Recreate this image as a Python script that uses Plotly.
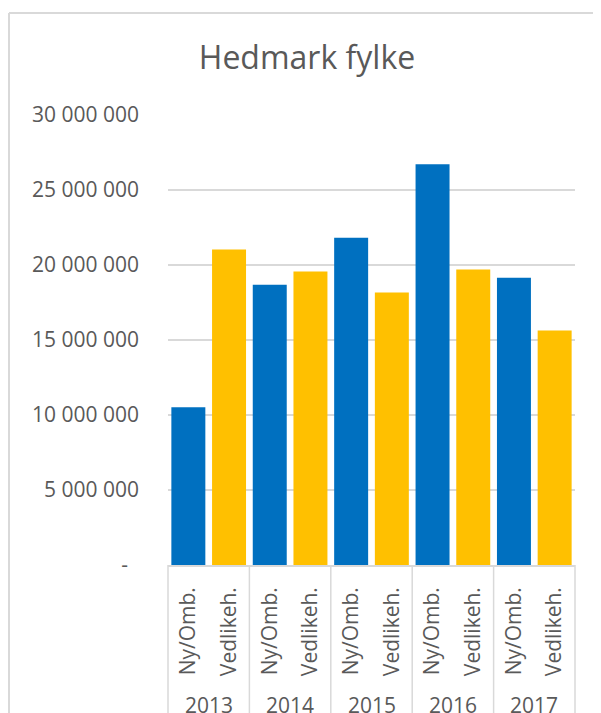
import plotly.graph_objects as go

years = ["2013", "2014", "2015", "2016", "2017"]
categories = ["Ny/Omb.", "Vedlikeh."]
ny_omb = [10520000, 18680000, 21810000, 26720000, 19150000]
vedlikeh = [21030000, 19570000, 18170000, 19700000, 15630000]
y_tickvals = [0, 5000000, 10000000, 15000000, 20000000, 25000000, 30000000]
y_ticktext = ["-\u00a0\u00a0", "5 000 000", "10 000 000", "15 000 000", "20 000 000", "25 000 000", "30 000 000"]

BLUE = "#0070C0"
YELLOW = "#FFC000"
TEXT = "#595959"
GRID = "#D9D9D9"
FONT = "Open Sans"

# page has an 8px body margin; figure is sized to fill the rest of the window
OFF = 8
W, H = 601 - OFF, 713 - OFF
L, R, T, B = 168 - OFF, 26, 115 - OFF, 148
pw, ph = W - L - R, H - T - B

keys_ny = [f"{yv} {categories[0]}" for yv in years]
keys_ved = [f"{yv} {categories[1]}" for yv in years]
order = []
labels = []
for yv in years:
    for c in categories:
        order.append(f"{yv} {c}")
        labels.append(c)

fig = go.Figure()
fig.add_trace(go.Bar(x=keys_ny, y=ny_omb, name=categories[0],
                     marker=dict(color=BLUE, line=dict(width=0))))
fig.add_trace(go.Bar(x=keys_ved, y=vedlikeh, name=categories[1],
                     marker=dict(color=YELLOW, line=dict(width=0))))

n = len(order)
shapes = []
for k in range(len(years) + 1):
    xp = (k * len(categories)) / n
    shapes.append(dict(type="line", xref="paper", yref="paper",
                       x0=xp, x1=xp, y0=0, y1=-(B + 10) / ph,
                       line=dict(color=GRID, width=1.5)))
bx = (9 - OFF - L) / pw
by = (H - B - (13 - OFF)) / ph
shapes.append(dict(type="line", xref="paper", yref="paper", x0=bx, x1=bx,
                   y0=by, y1=-(B + 10) / ph, line=dict(color=GRID, width=2)))
shapes.append(dict(type="line", xref="paper", yref="paper", x0=bx, x1=(W + 10 - L) / pw,
                   y0=by, y1=by, line=dict(color=GRID, width=2)))

annotations = []
for i, yv in enumerate(years):
    annotations.append(dict(
        text=yv, xref="paper", yref="paper",
        x=(i * 2 + 1) / n, y=-((689 - OFF) - (H - B)) / ph,
        xanchor="center", yanchor="top", showarrow=False,
        font=dict(family=FONT, size=21, color=TEXT)))

fig.update_layout(
    width=W, height=H,
    margin=dict(l=L, r=R, t=T, b=B, pad=0),
    paper_bgcolor="white", plot_bgcolor="white",
    showlegend=False,
    barmode="relative", bargap=0.165,
    title=dict(text="Hedmark fylke", x=(307 - OFF) / W, xanchor="center",
               y=1 - (57.5 - OFF) / H, yanchor="middle", yref="container",
               font=dict(family=FONT, size=32, color=TEXT)),
    font=dict(family=FONT, color=TEXT),
    shapes=shapes,
    annotations=annotations,
)
fig.update_xaxes(
    type="category", categoryorder="array", categoryarray=order,
    tickvals=order, ticktext=labels,
    automargin=False, showgrid=False,
    showline=True, linecolor=GRID, linewidth=1.5,
    ticks="", tickangle=-90, ticklabelstandoff=12,
    tickfont=dict(family=FONT, size=21, color=TEXT),
    range=[-0.5, n - 0.5],
)
fig.update_yaxes(
    range=[0, 30000000], tickvals=y_tickvals, ticktext=y_ticktext,
    automargin=False,
    showgrid=True, gridcolor=GRID, gridwidth=1.5,
    zeroline=False, showline=False, ticks="",
    ticklabelstandoff=28,
    tickfont=dict(family=FONT, size=21, color=TEXT),
)

fig.write_html("out.html")
